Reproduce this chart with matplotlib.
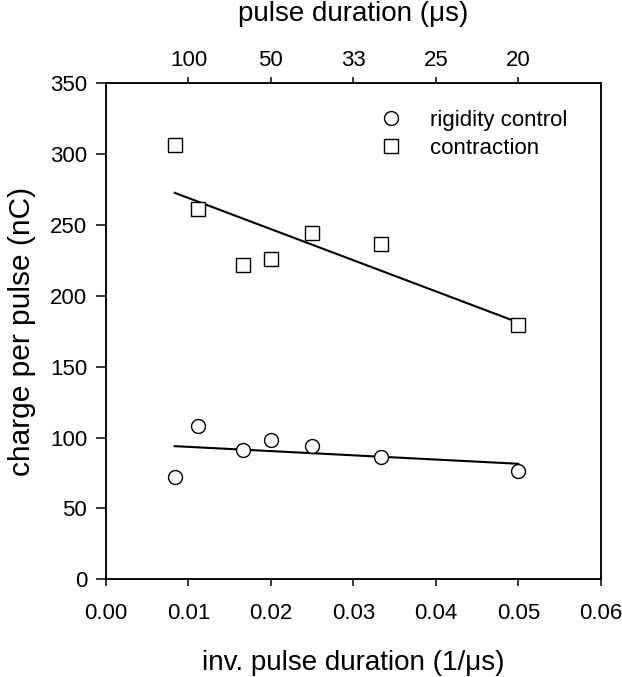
import numpy as np
import matplotlib
matplotlib.use("Agg")
import matplotlib.pyplot as plt

plt.rcParams['font.family'] = ['Liberation Sans', 'DejaVu Sans']

# Data
inv_duration = [1/120, 1/90, 1/60, 1/50, 1/40, 1/30, 1/20]
rigidity_control = [72, 108, 91, 98, 94, 86.5, 76.5]
contraction = [306.5, 261.5, 221.5, 226, 244.5, 236.5, 179.5]

x_ticks = [0.00, 0.01, 0.02, 0.03, 0.04, 0.05, 0.06]
x_ticklabels = ['0.00', '0.01', '0.02', '0.03', '0.04', '0.05', '0.06']
y_ticks = [0, 50, 100, 150, 200, 250, 300, 350]
top_ticks = [0.01, 0.02, 0.03, 0.04, 0.05]
top_ticklabels = ['100', '50', '33', '25', '20']

W, H = 622, 677
fig = plt.figure(figsize=(W/100, H/100), dpi=100)
L, R, B, T = 106/W, 600.7/W, 1-579.3/H, 1-83.3/H
ax = fig.add_axes([L, B, R-L, T-B])
axw, axh = 600.7-106, 579.3-83.3

x = np.array(inv_duration)
for yv, mk, lab in [(rigidity_control, 'o', 'rigidity control'),
                    (contraction, 's', 'contraction')]:
    ax.plot(x, yv, linestyle='none', marker=mk, markersize=10,
            markerfacecolor='white', markeredgecolor='black',
            markeredgewidth=1.0, label=lab, zorder=3)
    p = np.polyfit(x, np.array(yv), 1)
    xx = np.array([x.min(), x.max()])
    ax.plot(xx, np.polyval(p, xx), color='black', lw=1.5, zorder=2)

ax.set_xlim(0, 0.06)
ax.set_ylim(0, 350)
ax.set_xticks(x_ticks)
ax.set_xticklabels(x_ticklabels)
ax.set_yticks(y_ticks)
ax.tick_params(axis='x', direction='out', length=5, width=1.1, labelsize=16, pad=12)
ax.tick_params(axis='y', direction='out', length=7.5, width=1.1, labelsize=16, pad=6)
for s in ax.spines.values():
    s.set_linewidth(1.1)

ax.set_xlabel('inv. pulse duration (1/\u03bcs)', fontsize=20)
ax.xaxis.set_label_coords(0.5, (579.3-663)/axh)
ax.xaxis.label.set_verticalalignment('center')
ax.set_ylabel('charge per pulse (nC)', fontsize=21.5)
ax.yaxis.set_label_coords((22-106)/axw, 0.5)
ax.yaxis.label.set_verticalalignment('center')

top = ax.twiny()
top.set_xlim(ax.get_xlim())
top.set_xticks(top_ticks)
top.set_xticklabels(top_ticklabels)
top.tick_params(axis='x', direction='out', length=4.5, width=1.1, labelsize=16, pad=4)
top.set_xlabel('pulse duration (\u03bcs)', fontsize=20)
top.xaxis.set_label_coords(0.5, 1+(83.3-14)/axh)
top.xaxis.label.set_verticalalignment('center')
for s in top.spines.values():
    s.set_linewidth(1.1)

leg = ax.legend(loc='upper left', bbox_to_anchor=((380-106)/axw, 1-(110-83.3)/axh),
                frameon=False, fontsize=16, handlelength=1.0, handletextpad=1.25,
                labelspacing=0.3, borderaxespad=0, borderpad=0)

fig.savefig('out.png', dpi=100)
